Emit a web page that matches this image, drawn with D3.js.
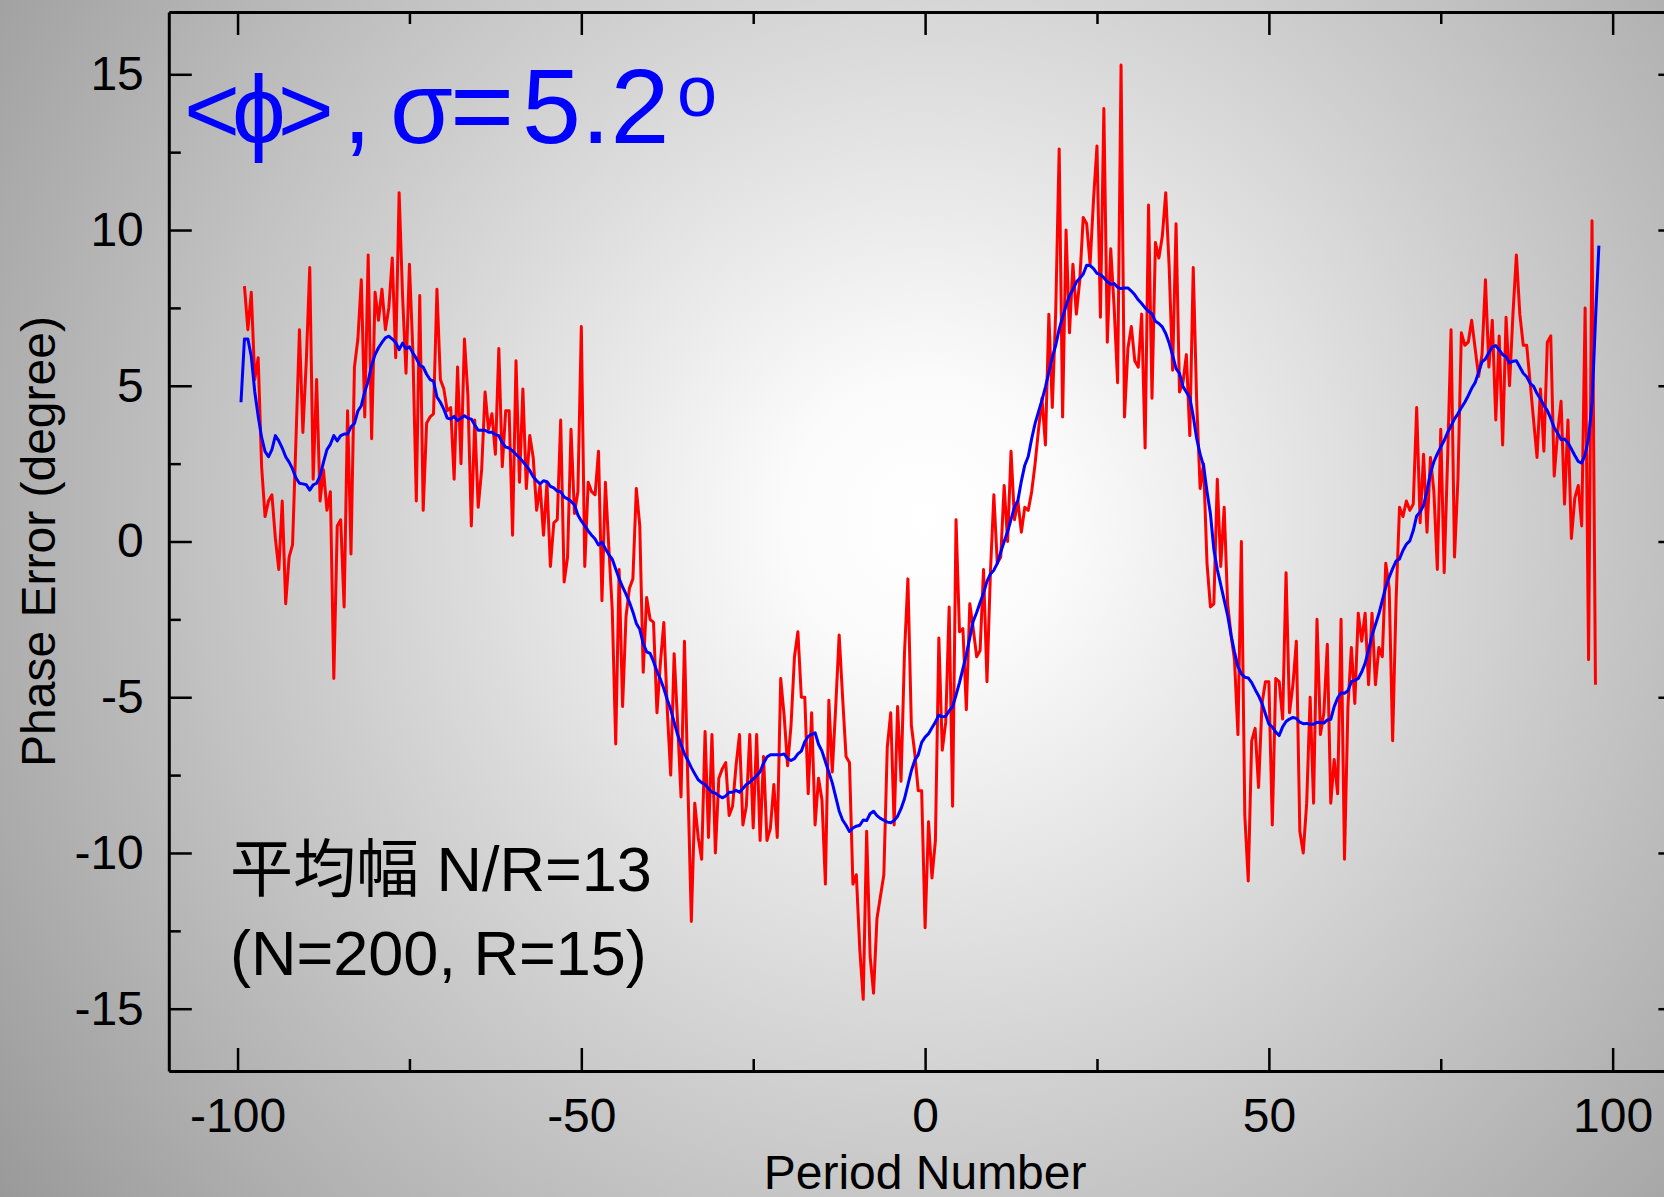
<!DOCTYPE html>
<html>
<head>
<meta charset="utf-8">
<script src="https://cdn.jsdelivr.net/npm/d3@7/dist/d3.min.js"></script>
<style>
  html, body { margin: 0; padding: 0; background: #fff; }
  svg { display: block; }
</style>
</head>
<body>
<div id="chart"></div>
<script>
// period grid: raw phase error every half period from -99, moving average from -99.5
const redStart = -99;
const blueStart = -99.5;
const periodStep = 0.5;

// raw phase error (degree)
const phaseError = [
  // -99 .. -59
  8.2, 6.8, 8.0, 5.2, 5.9, 2.4, 0.8, 1.3, 1.5, 0.1, -0.9, 1.3, -2.0, -0.5, -0.1, 3.3, 6.8, 3.5, 5.8, 8.8,
  2.0, 5.2, 1.3, 2.3, 1.0, 1.6, -4.4, 0.5, 0.7, -2.1, 4.2, -0.4, 5.6, 6.5, 8.4, 4.0, 9.2, 3.3, 8.0, 7.1,
  8.1, 6.8, 7.5, 9.1, 5.9, 11.2, 7.9, 5.4, 8.9, 6.1, 1.3, 7.9, 1.0, 3.8, 4.0, 4.1, 8.1, 5.2, 4.9, 4.2,
  4.3, 2.0, 5.6, 2.5, 6.5, 4.7, 0.5, 3.9, 1.1, 2.3, 4.8, 3.6, 4.1, 2.8, 6.2, 2.4, 4.2, 4.2, 0.2, 5.8, 1.9,
  // -58.5 .. -18.5
  4.9, 1.7, 3.4, 2.7, 1.0, 1.8, 0.2, 1.9, -0.8, 0.6, 0.7, 3.9, -1.3, -0.5, 3.6, 0.9, 1.6, 6.9, -0.8, 1.9,
  1.6, 1.5, 2.9, -1.9, 1.9, -0.2, -2.2, -6.5, -0.9, -5.3, -2.4, -1.5, -1.2, 1.7, 0.5, -4.2, -1.8, -2.5, -2.6, -5.5,
  -3.9, -2.6, -5.4, -7.5, -3.6, -5.8, -8.2, -3.2, -7.8, -12.2, -8.4, -9.5, -10.2, -6.1, -9.5, -6.2, -10.0, -7.6, -7.3, -7.1,
  -8.8, -8.5, -7.2, -6.2, -9.1, -8.5, -6.2, -9.2, -6.2, -9.6, -6.9, -9.6, -9.2, -7.8, -9.5, -4.4, -5.6, -7.2, -5.9, -3.7, -2.9,
  // -18 .. 9.5
  -5.0, -5.0, -8.1, -5.5, -9.1, -7.6, -8.3, -11.0, -5.1, -7.4, -5.3, -3.0, -5.0, -6.9, -7.1, -11.0, -10.7, -13.1, -14.7, -9.3,
  -13.3, -14.5, -12.1, -11.4, -10.7, -6.6, -5.5, -9.1, -5.3, -7.7, -3.6, -1.2, -5.9, -6.8, -8.0, -8.0, -12.4, -9.0, -10.8, -9.6,
  -3.1, -6.7, -5.8, -2.1, -8.5, 0.7, -2.9, -2.8, -5.4, -2.0, -2.8, -3.7, -3.5, -0.9, -4.5, -1.0,
  // 10 .. 17.5
  1.5, -0.7, -0.5, 1.8, 0.0, 2.9, 0.7, 1.3, 0.3, 1.1, 1.0, 1.6, 2.5, 3.6, 4.6, 3.1,
  // 18 .. 40
  7.3, 4.3, 7.4, 12.6, 4.0, 10.0, 6.7, 8.9, 7.3, 8.4, 10.4, 10.2, 8.9, 11.0, 12.7, 7.2, 13.9, 6.4, 9.4, 7.5,
  5.1, 15.3, 4.0, 6.2, 6.9, 5.8, 5.6, 7.3, 3.0, 10.8, 4.6, 9.6, 9.1, 9.8, 11.2, 8.8, 5.5, 10.2, 4.8, 5.1,
  6.0, 3.4, 8.8, 4.5, 1.7,
  // 40.5 .. 68.5
  2.5, -0.7, -2.1, -2.0, 2.0, -0.8, 1.1, -2.0, -3.0, -3.8, -6.2, 0.0, -8.8, -10.9, -6.4, -6.0, -7.9, -5.2, -4.5, -4.5,
  -9.1, -4.4, -4.5, -5.7, -1.0, -5.5, -4.6, -3.2, -9.3, -10.0, -8.4, -5.0, -8.4, -2.5, -6.2, -5.5, -3.3, -8.4, -7.0, -8.1,
  -2.5, -10.2, -5.3, -3.4, -5.2, -2.3, -3.2, -2.3, -4.6, -2.3, -4.6, -3.4, -3.7, -0.7, -1.5, -6.4, -1.9,
  // 69 .. 97.5
  1.1, 0.8, 1.3, 1.0, 1.2, 4.3, 0.6, 2.8, 0.3, 2.7, 1.6, -0.9, 3.6, -1.0, 2.7, 6.8, -0.5, 2.0, 6.7, 6.3,
  6.4, 7.1, 6.2, 5.3, 6.0, 8.4, 5.6, 7.1, 3.9, 6.6, 3.1, 7.2, 5.0, 7.3, 9.2, 7.3, 6.3, 6.3, 5.1, 3.9,
  2.7, 4.9, 2.9, 6.4, 6.6, 2.1, 3.5, 4.5, 1.2, 3.9, 0.1, 1.4, 1.8, 0.5, 7.5, -3.8, 10.3, -4.6
];

// moving average <phi> (degree)
const movingAvg = [
  // -99.5 .. -59
  4.47, 6.50, 6.50, 5.94, 4.81, 4.02, 3.34, 2.89, 2.72, 2.95, 3.40, 3.23, 3.00, 2.72, 2.55, 2.33, 2.04, 1.87, 1.85, 1.82,
  1.65, 1.82, 1.87, 2.10, 2.55, 2.95, 3.12, 3.40, 3.23, 3.40, 3.45, 3.45, 3.68, 3.79, 4.19, 4.36, 4.81, 5.15, 5.66, 6.00,
  6.22, 6.39, 6.54, 6.59, 6.50, 6.39, 6.16, 6.37, 6.19, 6.25, 6.05, 5.88, 5.66, 5.60, 5.37, 5.20, 5.15, 4.64, 4.47, 4.25,
  3.96, 3.93, 4.02, 3.88, 3.96, 4.04, 3.96, 3.93, 3.74, 3.57, 3.57, 3.57, 3.51, 3.51, 3.43, 3.40, 3.17, 3.03, 3.00, 2.91,
  2.80, 2.69,
  // -58.5 .. -18.5
  2.57, 2.43, 2.28, 2.08, 1.95, 1.85, 1.95, 1.92, 1.77, 1.72, 1.62, 1.60, 1.43, 1.37, 1.29, 1.18, 0.85, 0.66, 0.51, 0.34,
  0.20, 0.08, -0.11, -0.02, -0.23, -0.42, -0.57, -0.88, -1.19, -1.46, -1.69, -1.95, -2.26, -2.63, -2.82, -3.28, -3.54, -3.59, -3.85, -4.17,
  -4.42, -4.72, -5.08, -5.39, -5.80, -6.20, -6.51, -6.82, -7.03, -7.26, -7.46, -7.65, -7.74, -7.80, -7.93, -8.05, -8.08, -8.16, -8.23, -8.17,
  -8.05, -8.05, -7.99, -8.05, -7.93, -7.80, -7.73, -7.62, -7.52, -7.39, -7.12, -6.92, -6.85, -6.85, -6.85, -6.85, -6.82, -6.97, -7.03, -6.97,
  -6.82,
  // -18 .. 13
  -6.73, -6.43, -6.26, -6.19, -6.14, -6.51, -6.73, -7.07, -7.41, -7.75, -8.20, -8.65, -8.94, -9.11, -9.31, -9.20, -9.14, -9.11, -8.94, -8.96,
  -8.74, -8.66, -8.80, -8.89, -8.95, -9.01, -9.03, -8.96, -8.82, -8.58, -8.26, -7.81, -7.36, -7.02, -6.85, -6.45, -6.28, -6.17, -5.98, -5.80,
  -5.57, -5.63, -5.61, -5.44, -5.30, -4.93, -4.53, -4.08, -3.63, -3.09, -2.56, -2.28, -1.96, -1.66, -1.28, -1.04, -0.92, -0.70, -0.34, 0.00,
  0.32, 0.71, 1.11,
  // 13.5 .. 15
  1.32, 1.94, 2.45, 2.73,
  // 15.5 .. 39.5
  3.30, 3.79, 4.17, 4.54, 4.96, 5.44, 5.91, 6.30, 6.82, 7.20, 7.57, 7.90, 8.09, 8.33, 8.45, 8.59, 8.87, 8.86, 8.76, 8.61,
  8.57, 8.47, 8.34, 8.26, 8.28, 8.16, 8.12, 8.14, 8.14, 8.04, 7.92, 7.76, 7.64, 7.50, 7.39, 7.31, 7.07, 7.00, 6.89, 6.68,
  6.37, 5.98, 5.55, 5.40, 4.98, 4.80, 4.62, 4.02, 3.31,
  // 40 .. 66
  2.80, 2.43, 1.61, 0.89, -0.26, -0.90, -1.39, -1.88, -2.37, -3.01, -3.55, -4.02, -4.25, -4.36, -4.38, -4.53, -4.75, -4.95, -5.20, -5.54,
  -5.86, -5.95, -6.12, -6.23, -5.95, -5.78, -5.70, -5.65, -5.68, -5.80, -5.85, -5.84, -5.87, -5.87, -5.80, -5.81, -5.83, -5.73, -5.71, -5.30,
  -5.03, -4.86, -4.87, -4.79, -4.50, -4.46, -4.40, -4.19, -3.91, -3.48, -3.01, -2.67, -2.32,
  // 66.5 .. 98
  -1.89, -1.46, -1.15, -0.87, -0.63, -0.56, -0.29, -0.09, 0.02, 0.35, 0.82, 0.95, 1.16, 1.63, 2.20, 2.56, 2.81, 3.03, 3.25, 3.50,
  3.71, 3.94, 4.10, 4.30, 4.47, 4.68, 4.92, 5.10, 5.43, 5.77, 5.86, 6.07, 6.25, 6.29, 6.15, 6.00, 5.93, 5.73, 5.79, 5.80,
  5.60, 5.40, 5.29, 5.08, 4.98, 4.75, 4.58, 4.37, 4.20, 3.95, 3.65, 3.48, 3.27, 3.29, 3.17, 2.97, 2.76, 2.57, 2.52, 2.79,
  3.33, 4.42, 7.10, 9.50
];

const xTicks = [-100, -50, 0, 50, 100];
const xMinorTicks = [-75, -25, 25, 75];
const yTicks = [-15, -10, -5, 0, 5, 10, 15];
const yMinorTicks = [-12.5, -7.5, -2.5, 2.5, 7.5, 12.5];

const width = 1664, height = 1197;
const fontFamily = '"Liberation Sans", Arial, "Noto Sans CJK JP", sans-serif';

var x = d3.scaleLinear().domain([-110, 110]).range([168.8, 1681.4]);
var y = d3.scaleLinear().domain([-17, 17]).range([1071, 12]);

var svg = d3
  .select("#chart")
  .append("svg")
  .attr("width", width)
  .attr("height", height);

// grey vignette background
var grad = svg
  .append("defs")
  .append("radialGradient")
  .attr("id", "bg")
  .attr("gradientUnits", "userSpaceOnUse")
  .attr("cx", 925)
  .attr("cy", 520)
  .attr("r", 1150);
grad.append("stop").attr("offset", 0).attr("stop-color", "#ffffff");
grad.append("stop").attr("offset", 0.12).attr("stop-color", "#fbfbfb");
grad.append("stop").attr("offset", 1).attr("stop-color", "#999999");

svg
  .append("rect")
  .attr("width", width)
  .attr("height", height)
  .attr("fill", "url(#bg)");

// data lines
var redLine = d3
  .line()
  .x((d, i) => x(redStart + i * periodStep))
  .y(d => y(d));

var blueLine = d3
  .line()
  .x((d, i) => x(blueStart + i * periodStep))
  .y(d => y(d));

svg
  .append("path")
  .datum(phaseError)
  .attr("fill", "none")
  .attr("stroke", "#ff0000")
  .attr("stroke-width", 3)
  .attr("stroke-linejoin", "round")
  .attr("d", redLine);

svg
  .append("path")
  .datum(movingAvg)
  .attr("fill", "none")
  .attr("stroke", "#0000ff")
  .attr("stroke-width", 3)
  .attr("stroke-linejoin", "round")
  .attr("d", blueLine);

// axes, ticks pointing inward on all four sides
function styleAxis(g) {
  g.attr("font-family", fontFamily).attr("font-size", 48);
  g.select(".domain").attr("stroke", "#000").attr("stroke-width", 3);
  g.selectAll(".tick line").attr("stroke", "#000").attr("stroke-width", 2.5);
  g.selectAll(".tick text").attr("fill", "#000");
}

function minorAxis(axis, transform) {
  svg
    .append("g")
    .attr("transform", transform)
    .call(axis.tickSizeInner(-12).tickSizeOuter(0).tickFormat(""))
    .call(g => g.select(".domain").remove())
    .call(styleAxis);
}

svg
  .append("g")
  .attr("transform", "translate(0," + y(-17) + ")")
  .call(
    d3.axisBottom(x).tickValues(xTicks).tickSizeInner(-23).tickSizeOuter(0)
      .tickPadding(27).tickFormat(d => String(d))
  )
  .call(styleAxis);

svg
  .append("g")
  .attr("transform", "translate(0," + y(17) + ")")
  .call(d3.axisTop(x).tickValues(xTicks).tickSizeInner(-23).tickSizeOuter(0).tickFormat(""))
  .call(styleAxis);

svg
  .append("g")
  .attr("transform", "translate(" + x(-110) + ",0)")
  .call(
    d3.axisLeft(y).tickValues(yTicks).tickSizeInner(-23).tickSizeOuter(0)
      .tickPadding(25).tickFormat(d => String(d))
  )
  .call(styleAxis);

svg
  .append("g")
  .attr("transform", "translate(" + x(110) + ",0)")
  .call(d3.axisRight(y).tickValues(yTicks).tickSizeInner(-23).tickSizeOuter(0).tickFormat(""))
  .call(styleAxis);

minorAxis(d3.axisBottom(x).tickValues(xMinorTicks), "translate(0," + y(-17) + ")");
minorAxis(d3.axisTop(x).tickValues(xMinorTicks), "translate(0," + y(17) + ")");
minorAxis(d3.axisLeft(y).tickValues(yMinorTicks), "translate(" + x(-110) + ",0)");
minorAxis(d3.axisRight(y).tickValues(yMinorTicks), "translate(" + x(110) + ",0)");

// axis titles
svg
  .append("text")
  .attr("x", x(0))
  .attr("y", 1189)
  .attr("text-anchor", "middle")
  .attr("font-family", fontFamily)
  .attr("font-size", 48)
  .text("Period Number");

svg
  .append("text")
  .attr("transform", "translate(55," + y(0) + ") rotate(-90)")
  .attr("text-anchor", "middle")
  .attr("font-family", fontFamily)
  .attr("font-size", 48)
  .text("Phase Error (degree)");

// annotations
var title = svg
  .append("text")
  .attr("font-family", fontFamily)
  .attr("fill", "#0000ff");
title.append("tspan").attr("x", 184).attr("y", 143).attr("font-size", 96)
  .attr("letter-spacing", -8).text("<\u03D5>");
title.append("tspan").attr("x", 343).attr("y", 143).attr("font-size", 102).text(",");
title.append("tspan").attr("x", 390).attr("y", 143).attr("font-size", 102).text("\u03C3");
title.append("tspan").attr("x", 450).attr("y", 143).attr("font-size", 110).text("=");
title.append("tspan").attr("x", 522).attr("y", 143).attr("font-size", 106).text("5.2");
title.append("tspan").attr("x", 677).attr("y", 116).attr("font-size", 72).text("o");

svg
  .append("text")
  .attr("x", 230)
  .attr("y", 891)
  .attr("font-family", fontFamily)
  .attr("font-size", 63)
  .text("平均幅 N/R=13");

svg
  .append("text")
  .attr("x", 230)
  .attr("y", 975)
  .attr("font-family", fontFamily)
  .attr("font-size", 63)
  .text("(N=200, R=15)");
</script>
</body>
</html>
